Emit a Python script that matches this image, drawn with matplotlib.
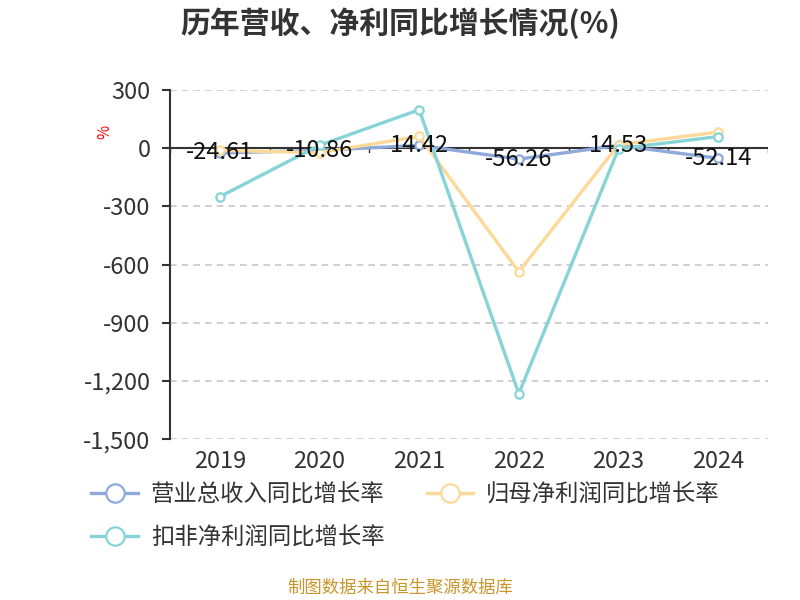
import numpy as np
import matplotlib
matplotlib.use('Agg')
import matplotlib.pyplot as plt

plt.rcParams['font.family'] = ['Noto Sans CJK SC', 'DejaVu Sans']

years = ['2019', '2020', '2021', '2022', '2023', '2024']
revenue_growth = [-24.61, -10.86, 14.42, -56.26, 14.53, -52.14]
net_profit_growth = [-11, -23, 61, -637, 18, 83]
deducted_profit_growth = [-250, 15, 198, -1265, -3, 60]

series_names = ['营业总收入同比增长率', '归母净利润同比增长率', '扣非净利润同比增长率']
colors = ['#8eaadc', '#fdd999', '#86d4d8']

fig = plt.figure(figsize=(8, 6), dpi=100)
ax = fig.add_axes([0.2125, 0.268, 0.7475, 0.582])

x = np.arange(len(years))
handles = []
for vals, name, c in zip([revenue_growth, net_profit_growth, deducted_profit_growth], series_names, colors):
    h, = ax.plot(x, vals, color=c, lw=2.4, marker='o', ms=6, mfc='white', mec=c, mew=1.6,
                 label=name, zorder=3)
    handles.append(h)

# data labels for revenue series
for xi, v in zip(x, revenue_growth):
    ax.text(xi, v, f'{v:.2f}', ha='center', va='center', fontsize=17, color='#111111', zorder=5)

ax.set_xlim(-0.5, len(years) - 0.5)
ax.set_ylim(-1500, 300)
ax.set_yticks(np.arange(-1500, 301, 300))
ax.set_yticklabels([f'{v:,}' for v in np.arange(-1500, 301, 300)])
ax.grid(axis='y', color='#c8c8c8', ls=(0, (4, 3)), lw=1.2)
ax.set_axisbelow(True)

for s in ['top', 'right', 'bottom']:
    ax.spines[s].set_visible(False)
ax.spines['left'].set_color('#333333')
ax.spines['left'].set_linewidth(1.5)
ax.axhline(0, color='#333333', lw=1.5, zorder=2)

# category boundary ticks on zero line
for b in np.arange(-0.5, len(years), 1.0):
    ax.plot([b, b], [0, -20], color='#333333', lw=1, zorder=2)

ax.set_xticks(x)
ax.set_xticklabels(years)
ax.tick_params(axis='x', length=0, labelsize=17, labelcolor='#333333', pad=8)
ax.tick_params(axis='y', length=6, width=1.5, color='#333333', labelsize=17,
               labelcolor='#333333', pad=8)

fig.text(0.131, 0.78, '%', color='red', fontsize=11, rotation=90, ha='center', va='center')

fig.text(0.5, 0.962, '历年营收、净利同比增长情况(%)', ha='center', va='center',
         fontsize=21.5, fontweight='bold', color='#333333')

fig.legend(handles=[handles[0], handles[2], handles[1]], loc='upper left',
           bbox_to_anchor=(0.088, 0.229), ncol=2, frameon=False, fontsize=16.8,
           handlelength=2.0, columnspacing=1.8, labelspacing=0.85, handletextpad=0.55,
           labelcolor='#333333', markerscale=2.2)

fig.text(0.5, 0.02, '制图数据来自恒生聚源数据库', ha='center', va='center',
         fontsize=12.5, color='#c8962a')

fig.savefig('out.png', dpi=100)
